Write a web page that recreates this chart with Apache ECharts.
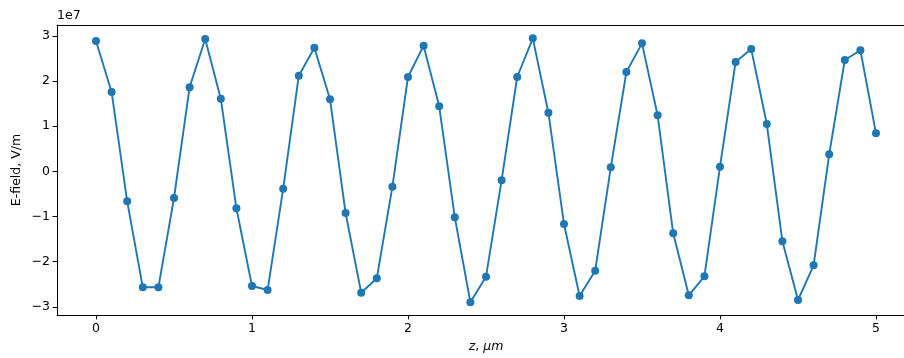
<!DOCTYPE html>
<html>
<head>
<meta charset="utf-8">
<script src="https://cdn.jsdelivr.net/npm/echarts@6/dist/echarts.min.js"></script>
<style>
html,body{margin:0;padding:0;background:#fff;}
#c{width:904px;height:358px;}
</style>
</head>
<body>
<div id="c"></div>
<script>
// z positions, micrometres
const zValues = [0.0,0.1,0.2,0.3,0.4,0.5,0.6,0.7,0.8,0.9,
  1.0,1.1,1.2,1.3,1.4,1.5,1.6,1.7,1.8,1.9,
  2.0,2.1,2.2,2.3,2.4,2.5,2.6,2.7,2.8,2.9,
  3.0,3.1,3.2,3.3,3.4,3.5,3.6,3.7,3.8,3.9,
  4.0,4.1,4.2,4.3,4.4,4.5,4.6,4.7,4.8,4.9,5.0];
// E-field in units of 1e7 V/m
const eField = [2.885,1.756,-0.664,-2.568,-2.568,-0.591,1.860,2.929,1.607,-0.819,
  -2.539,-2.628,-0.385,2.117,2.737,1.594,-0.923,-2.687,-2.369,-0.341,
  2.088,2.781,1.439,-1.018,-2.900,-2.333,-0.199,2.088,2.944,1.297,
  -1.167,-2.761,-2.200,0.088,2.198,2.833,1.240,-1.373,-2.746,-2.325,
  0.103,2.420,2.708,1.047,-1.550,-2.849,-2.081,0.376,2.464,2.679,0.841];
const xTicks = [0,1,2,3,4,5];
const yTicks = [-3,-2,-1,0,1,2,3];
const yScaleLabel = '1e7';

const data = zValues.map((z,i)=>[z,eField[i]]);
const fmt = v => (v<0 ? '\u2212'+Math.abs(v) : String(v));
const font = 'DejaVu Sans';

const chart = echarts.init(document.getElementById('c'), null, {renderer:'canvas'});
chart.setOption({
  animation:false,
  backgroundColor:'#fff',
  grid:{left:57, top:25, width:858, height:290, containLabel:false, outerBoundsMode:'none'},
  xAxis:[{
    type:'value', min:-0.25, max:5.25, position:'bottom',
    splitLine:{show:false},
    axisLine:{show:true, onZero:false, lineStyle:{color:'#000', width:1}},
    axisTick:{show:true, length:4.4, lineStyle:{color:'#000', width:1}, customValues:xTicks},
    axisLabel:{show:true, margin:7, color:'#000', fontFamily:font, fontSize:12.5, customValues:xTicks, formatter:fmt},
    name:'{i|z}{n|, }{i|\u03bcm}', nameLocation:'middle', nameGap:25, nameMoveOverlap:false,
    nameTextStyle:{color:'#000', fontFamily:font, fontSize:12.5, verticalAlign:'top',
      rich:{i:{fontStyle:'italic', fontFamily:font, fontSize:12.5, color:'#000'}, n:{fontFamily:font, fontSize:12.5, color:'#000'}}}
  },{
    type:'value', min:-0.25, max:5.25, position:'top',
    splitLine:{show:false},
    axisLine:{show:true, onZero:false, lineStyle:{color:'#000', width:1}},
    axisTick:{show:false}, axisLabel:{show:false}
  }],
  yAxis:[{
    type:'value', min:-3.181, max:3.239,
    splitLine:{show:false},
    axisLine:{show:true, onZero:false, lineStyle:{color:'#000', width:1}},
    axisTick:{show:true, length:4.4, lineStyle:{color:'#000', width:1}, customValues:yTicks},
    axisLabel:{show:true, margin:7, color:'#000', fontFamily:font, fontSize:12.5, customValues:yTicks, formatter:fmt},
    name:'E-field, V/m', nameLocation:'middle', nameGap:40, nameRotate:90, nameMoveOverlap:false,
    nameTextStyle:{color:'#000', fontFamily:font, fontSize:12.5, verticalAlign:'middle'}
  }],
  graphic:[{
    type:'text', left:57, top:9,
    style:{text:yScaleLabel, fill:'#000', font:'12.5px "DejaVu Sans"'}
  }],
  series:[{
    type:'line', data:data, xAxisIndex:0, yAxisIndex:0,
    symbol:'circle', symbolSize:8, showSymbol:true,
    lineStyle:{color:'#1f77b4', width:1.9},
    itemStyle:{color:'#1f77b4'},
    clip:false
  }]
});
</script>
</body>
</html>
